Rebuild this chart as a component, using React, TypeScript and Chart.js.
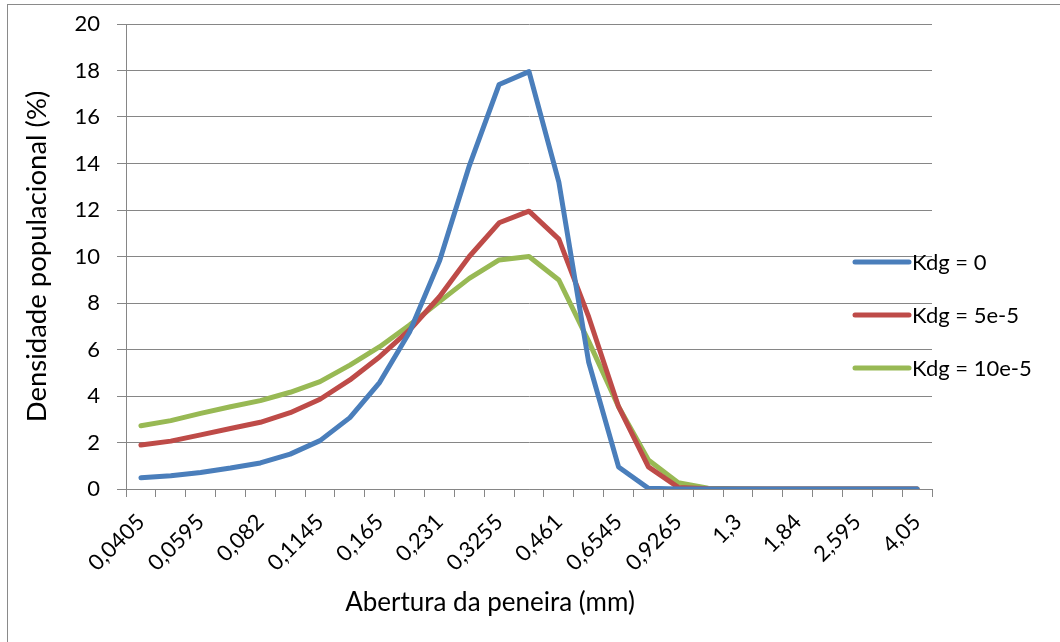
import React, { useEffect, useRef } from 'react';
import { Chart, registerables } from 'chart.js';

Chart.register(...registerables);

const aberturas = [
  '0,0405', '0,049', '0,0595', '0,0705', '0,082', '0,0975', '0,1145', '0,1375', '0,165',
  '0,196', '0,231', '0,275', '0,3255', '0,3875', '0,461', '0,5485', '0,6545', '0,7775',
  '0,9265', '1,1', '1,3', '1,55', '1,84', '2,19', '2,595', '3,25', '4,05',
];

const kdg0 = [
  0.48, 0.57, 0.71, 0.9, 1.12, 1.5, 2.08, 3.07, 4.59, 6.75, 9.8, 13.9, 17.4, 17.95,
  13.2, 5.45, 0.95, 0.03, 0, 0, 0, 0, 0, 0, 0, 0, 0,
];
const kdg5 = [
  1.89, 2.06, 2.33, 2.6, 2.87, 3.28, 3.86, 4.69, 5.69, 6.84, 8.27, 10.0, 11.45, 11.95,
  10.75, 7.4, 3.54, 0.95, 0.07, 0.01, 0, 0, 0, 0, 0, 0, 0,
];
const kdg10 = [
  2.72, 2.94, 3.25, 3.54, 3.8, 4.16, 4.62, 5.33, 6.12, 7.05, 8.06, 9.06, 9.85, 10.0,
  8.99, 6.35, 3.54, 1.25, 0.27, 0.03, 0.01, 0, 0, 0, 0, 0, 0,
];

const seriesLabels = ['Kdg = 0', 'Kdg = 5e-5', 'Kdg = 10e-5'];
const seriesColors = ['#4A7EBB', '#BE4B48', '#98B954'];
const seriesValues = [kdg0, kdg5, kdg10];
const xTitle = 'Abertura da peneira (mm)';
const yTitle = 'Densidade populacional (%)';

const FONT = 'Lato';
const GRID = '#868686';

export default function App() {
  const ref = useRef<HTMLCanvasElement>(null);

  useEffect(() => {
    if (!ref.current) return;

    const framePlugin = {
      id: 'frame',
      beforeDraw(chart: any) {
        const ctx = chart.ctx;
        ctx.save();
        ctx.fillStyle = '#ffffff';
        ctx.fillRect(0, 0, chart.width, chart.height);
        ctx.strokeStyle = '#8a8a8a';
        ctx.lineWidth = 1;
        ctx.strokeRect(7.5, 4.5, chart.width + 20, chart.height + 20);
        ctx.restore();
      },
    };

    const legendPlugin = {
      id: 'excelLegend',
      afterDraw(chart: any) {
        const ctx = chart.ctx;
        const area = chart.chartArea;
        ctx.save();
        chart.data.datasets.forEach((ds: any, i: number) => {
          const y = area.top + 238 + 53 * i;
          const x0 = area.right - 77;
          ctx.strokeStyle = ds.borderColor;
          ctx.lineWidth = 5;
          ctx.lineCap = 'round';
          ctx.beginPath();
          ctx.moveTo(x0, y);
          ctx.lineTo(x0 + 54, y);
          ctx.stroke();
          ctx.fillStyle = '#000';
          ctx.font = `22px ${FONT}`;
          ctx.textBaseline = 'middle';
          ctx.textAlign = 'left';
          ctx.fillText(ds.label, x0 + 57, y + 1);
        });
        // x axis title (Excel places it slightly left of centre)
        ctx.fillStyle = '#000';
        ctx.font = `26px ${FONT}`;
        ctx.textAlign = 'center';
        ctx.textBaseline = 'middle';
        ctx.fillText(xTitle, area.left + 364, chart.height - 39);
        ctx.restore();
      },
    };

    const chart = new Chart(ref.current, {
      type: 'line',
      data: {
        labels: aberturas,
        datasets: seriesValues.map((vals, i) => ({
          label: seriesLabels[i],
          data: vals,
          borderColor: seriesColors[i],
          backgroundColor: seriesColors[i],
          borderWidth: 5,
          pointRadius: 0,
          tension: 0,
          borderJoinStyle: 'round',
          borderCapStyle: 'round',
          fill: false,
        })),
      },
      options: {
        animation: false,
        responsive: false,
        devicePixelRatio: 1,
        layout: { padding: { left: 0, top: 24, right: 128, bottom: 0 } },
        plugins: {
          legend: { display: false },
          tooltip: { enabled: false },
        },
        scales: {
          x: {
            type: 'category',
            offset: true,
            grid: {
              display: true,
              drawOnChartArea: false,
              drawTicks: true,
              tickLength: 8,
              offset: true,
              color: GRID,
              tickColor: GRID,
            },
            border: { display: true, color: GRID, width: 1 },
            ticks: {
              autoSkip: false,
              maxRotation: 45,
              minRotation: 45,
              padding: 12,
              color: '#000',
              font: { family: FONT, size: 22 },
              callback: (_v: any, i: number) => (i % 2 === 0 ? aberturas[i] : ''),
            },
            afterFit: (s: any) => {
              s.height = 153;
              s.paddingLeft = 0;
              s.paddingRight = 0;
            },
          },
          y: {
            min: 0,
            max: 20,
            grid: {
              color: GRID,
              tickColor: GRID,
              drawTicks: true,
              tickLength: 9,
            },
            border: { display: true, color: GRID, width: 1 },
            ticks: {
              stepSize: 2,
              padding: 17,
              color: '#000',
              font: { family: FONT, size: 22 },
            },
            title: {
              display: true,
              text: yTitle,
              color: '#000',
              font: { family: FONT, size: 27.5 },
              padding: { top: 21, bottom: 0 },
            },
            afterFit: (s: any) => {
              s.width = 126;
              s.paddingTop = 0;
              s.paddingBottom = 0;
            },
          },
        },
      },
      plugins: [framePlugin, legendPlugin],
    } as any);

    return () => chart.destroy();
  }, []);

  return (
    <div style={{ position: 'fixed', left: 0, top: 0, width: 1060, height: 642 }}>
      <canvas
        ref={ref}
        width={1060}
        height={642}
        style={{ display: 'block', width: 1060, height: 642 }}
      />
    </div>
  );
}
